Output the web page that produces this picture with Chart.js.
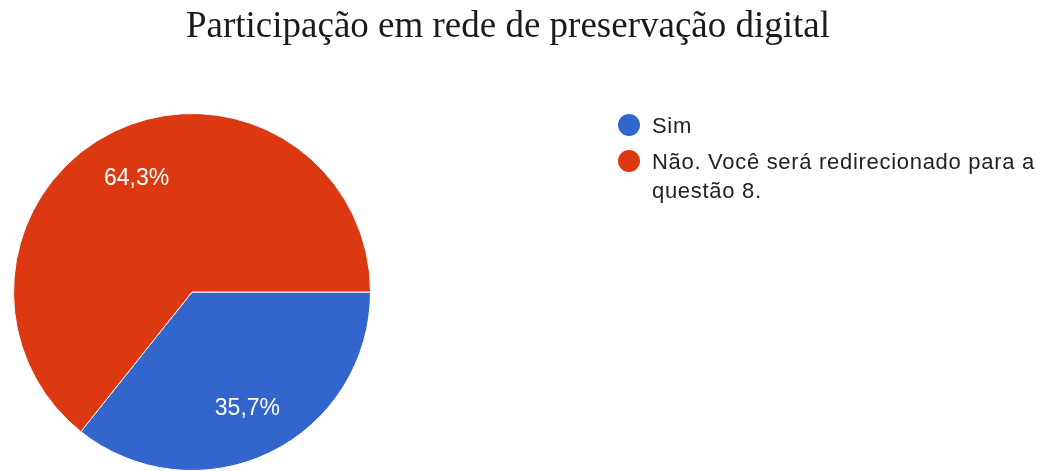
<!DOCTYPE html>
<html>
<head>
<meta charset="utf-8">
<script src="https://cdn.jsdelivr.net/npm/chart.js@4/dist/chart.umd.min.js"></script>
<style>
  html, body { margin: 0; padding: 0; background: #fff; }
  #wrap { position: relative; width: 1050px; height: 471px; overflow: hidden; }
  #pieCanvas { position: absolute; left: 0; top: 0; }
  #chartTitle {
    position: absolute; left: 0; top: 5px; width: 1016px;
    text-align: center; font: 37px/40px "Liberation Serif", "Times New Roman", serif;
    color: #1a1a1a; white-space: nowrap;
  }
  #chartLegend {
    position: absolute; left: 618px; top: 111px; width: 430px;
    font: 22px/29px "Liberation Sans", Arial, sans-serif; color: #222;
    letter-spacing: 0.7px;
  }
  .lg-item { display: flex; align-items: flex-start; margin-bottom: 7px; }
  .lg-dot { flex: 0 0 22px; height: 22px; border-radius: 50%; margin-top: 3px; margin-right: 12px; }
  .lg-text { width: 392px; }
</style>
</head>
<body>
<div id="wrap">
  <canvas id="pieCanvas" width="1050" height="471"></canvas>
  <div id="chartTitle"></div>
  <div id="chartLegend"></div>
</div>
<script>
// =============================================================
// DATA
// =============================================================
const TITLE = "Participação em rede de preservação digital";
const LABELS = ["Sim", "Não. Você será redirecionado para a questão 8."];
const VALUES = [35.7, 64.3];
const COLORS = ["#3366cc", "#dc3912"];

// =============================================================
// TITLE + LEGEND (HTML)
// =============================================================
document.getElementById("chartTitle").textContent = TITLE;

const legend = document.getElementById("chartLegend");
LABELS.forEach((lbl, i) => {
  const item = document.createElement("div");
  item.className = "lg-item";
  item.innerHTML = `<span class="lg-dot" style="background:${COLORS[i]}"></span><span class="lg-text"></span>`;
  item.querySelector(".lg-text").textContent = lbl;
  legend.appendChild(item);
});

// =============================================================
// SLICE LABELS PLUGIN
// =============================================================
const sliceLabels = {
  id: "sliceLabels",
  afterDatasetsDraw(chart) {
    const ctx = chart.ctx;
    const meta = chart.getDatasetMeta(0);
    const total = VALUES.reduce((a, b) => a + b, 0);
    ctx.save();
    ctx.fillStyle = "#ffffff";
    ctx.font = '23px "Liberation Sans", Arial, sans-serif';
    ctx.textAlign = "center";
    ctx.textBaseline = "alphabetic";
    meta.data.forEach((arc, i) => {
      const mid = (arc.startAngle + arc.endAngle) / 2;
      const r = arc.outerRadius * 0.715;
      const x = arc.x + Math.cos(mid) * r;
      const y = arc.y + Math.sin(mid) * r;
      const pct = (VALUES[i] / total * 100).toFixed(1).replace(".", ",") + "%";
      ctx.fillText(pct, x, y + 8);
    });
    ctx.restore();
  }
};

// =============================================================
// PIE
// =============================================================
new Chart(document.getElementById("pieCanvas").getContext("2d"), {
  type: "pie",
  data: {
    labels: LABELS,
    datasets: [{
      data: VALUES,
      backgroundColor: COLORS,
      borderColor: "#ffffff",
      borderWidth: 1
    }]
  },
  options: {
    responsive: false,
    animation: false,
    rotation: 90,
    layout: { padding: { left: 13, right: 679, top: 113, bottom: 0 } },
    plugins: {
      legend: { display: false },
      tooltip: { enabled: false },
      title: { display: false }
    }
  },
  plugins: [sliceLabels]
});
</script>
</body>
</html>
